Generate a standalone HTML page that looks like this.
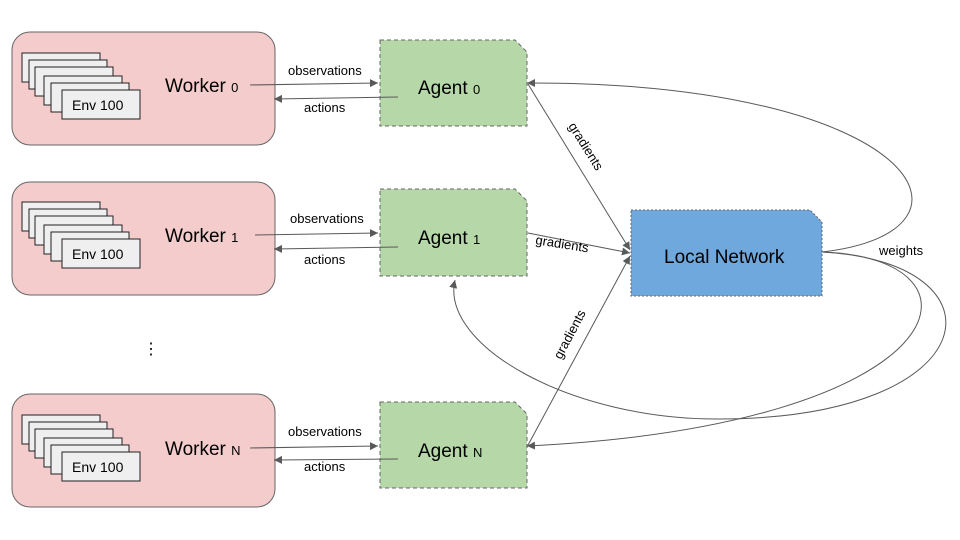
<!DOCTYPE html>
<html><head><meta charset="utf-8"><style>
html,body{margin:0;padding:0;background:#fff;}
svg{display:block;font-family:"Liberation Sans",Arial,sans-serif;}
</style></head><body>
<svg width="960" height="540" viewBox="0 0 960 540" xmlns="http://www.w3.org/2000/svg">
<defs>
<marker id="a" markerWidth="10" markerHeight="10" refX="8" refY="4" orient="auto" markerUnits="userSpaceOnUse">
<path d="M0,0 L8,4 L0,8 z" fill="#595959"/></marker>
<g id="envs" fill="#efefef" stroke="#222" stroke-width="1">
<rect x="22" y="0" width="78" height="29"/>
<rect x="29" y="7" width="78" height="29"/>
<rect x="35" y="14" width="78" height="29"/>
<rect x="44" y="23" width="78" height="29"/>
<rect x="51" y="30" width="78" height="29"/>
<rect x="62" y="37" width="78" height="29"/>
</g>
</defs>
<!-- workers -->
<g stroke="#666" fill="#f4cccc" stroke-width="1">
<rect x="12" y="32" width="263" height="113" rx="18"/>
<rect x="12" y="182" width="263" height="113" rx="18"/>
<rect x="12" y="394" width="263" height="113" rx="18"/>
</g>
<use href="#envs" y="53"/>
<use href="#envs" y="202"/>
<use href="#envs" y="415"/>
<g font-size="14" fill="#000">
<text x="72" y="110">Env 100</text>
<text x="72" y="259">Env 100</text>
<text x="72" y="472">Env 100</text>
</g>
<g font-size="19" fill="#000">
<text x="165" y="92">Worker <tspan font-size="13">0</tspan></text>
<text x="165" y="242">Worker <tspan font-size="13">1</tspan></text>
<text x="165" y="455">Worker <tspan font-size="13">N</tspan></text>
</g>
<text x="143" y="354" font-size="16">⋮</text>
<!-- agents -->
<g fill="#b6d7a8" stroke="#666" stroke-dasharray="4,3" stroke-width="1">
<path d="M380,40 H515 L527,52 V126 H380 Z"/>
<path d="M380,189 H515 L527,201 V276 H380 Z"/>
<path d="M380,402 H515 L527,414 V488 H380 Z"/>
</g>
<g font-size="19" fill="#000">
<text x="418" y="94">Agent <tspan font-size="13">0</tspan></text>
<text x="418" y="244">Agent <tspan font-size="13">1</tspan></text>
<text x="418" y="457">Agent <tspan font-size="13">N</tspan></text>
</g>
<!-- local network -->
<path d="M631,210 H810 L822,222 V296 H631 Z" fill="#6fa8dc" stroke="#666" stroke-dasharray="2,2" stroke-width="1"/>
<text x="664" y="263" font-size="19">Local Network</text>
<!-- connectors -->
<g stroke="#595959" stroke-width="1" fill="none" marker-end="url(#a)">
<path d="M250,85 L378,83"/>
<path d="M398,97 L274,99"/>
<path d="M255,235 L378,233"/>
<path d="M398,247 L274,249"/>
<path d="M250,448 L378,446"/>
<path d="M398,459 L274,460"/>
<path d="M528,84 L630,250"/>
<path d="M528,233 L630,253"/>
<path d="M527,447 L630,256"/>
<path d="M822,252 C1000,232 920,82 527,83"/>
<path d="M822,252 C1000,258 960,425 527,446"/>
<path d="M822,252 C1010,262 990,418 720,419 C570,420 440,345 455,280"/>
</g>
<g font-size="13" fill="#000">
<text x="288" y="75">observations</text>
<text x="304" y="112">actions</text>
<text x="290" y="223">observations</text>
<text x="304" y="264">actions</text>
<text x="288" y="436">observations</text>
<text x="304" y="471">actions</text>
<text transform="translate(568,126) rotate(58)">gradients</text>
<text transform="translate(535,244) rotate(9)">gradients</text>
<text transform="translate(561,360) rotate(-62)">gradients</text>
<text x="879" y="255">weights</text>
</g>
</svg>
</body></html>
